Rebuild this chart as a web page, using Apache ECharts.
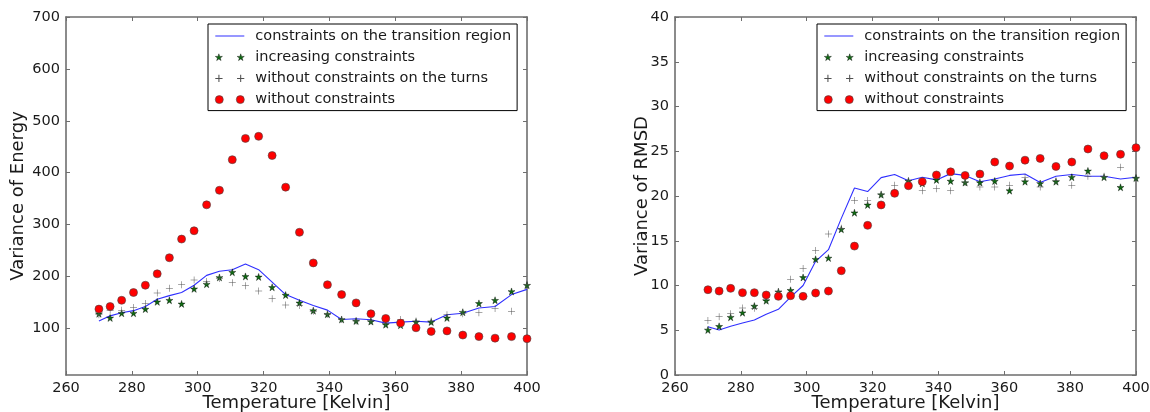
<!DOCTYPE html>
<html>
<head>
<meta charset="utf-8">
<title>Variance of Energy and RMSD vs Temperature</title>
<script src="https://cdn.jsdelivr.net/npm/echarts@6/dist/echarts.min.js"></script>
<style>
  html, body { margin: 0; padding: 0; background: #fff; }
  #chart { width: 1150px; height: 412px; }
</style>
</head>
<body>
<div id="chart"></div>
<script>
// Replica temperatures (Kelvin)
const temperatures = [270.0, 273.4, 276.9, 280.5, 284.1, 287.7, 291.4, 295.1, 298.9, 302.7,
  306.6, 310.5, 314.5, 318.5, 322.6, 326.7, 330.9, 335.1, 339.4, 343.7, 348.1, 352.6,
  357.1, 361.6, 366.3, 370.9, 375.7, 380.5, 385.4, 390.3, 395.3, 400.0];

const seriesNames = ['constraints on the transition region', 'increasing constraints',
  'without constraints on the turns', 'without constraints'];

// Variance of energy
const energyTransition = [114, 124, 130, 134, 142, 156, 163, 169, 183, 202, 210, 213, 224, 213,
  189, 165, 154, 144, 135, 117, 118.5, 116.5, 110, 112, 113.5, 112, 126, 129, 139, 142, 165, 175];
const energyIncreasing = [128, 120, 129, 129, 137, 151, 154, 147, 176, 185, 198, 208, 200, 199,
  179, 164, 149, 134, 127, 117, 114, 113, 107, 106, 112, 112, 120, 131, 148, 154, 171, 183];
const energyNoTurns = [126, 135, 135, 140, 148, 168, 177, 184, 193, 190, 196, 188, 182, 172,
  157, 145, 144, 133, 127, 117, 114, 114, 109, 117, 114, 114, 126, 128, 130, 138, 133, 185];
const energyNone = [137, 142, 154, 169, 183, 205, 236, 272, 288, 338, 366, 425, 466, 470,
  433, 372, 285, 226, 184, 165, 149, 128, 119, 110, 101, 94, 95, 87, 84, 81, 84, 80];

// Variance of RMSD
const rmsdTransition = [5.4, 5.03, 5.45, 5.8, 6.15, 6.8, 7.34, 8.7, 10.0, 12.7, 14.0, 17.5,
  20.9, 20.5, 22.05, 22.4, 21.7, 22.1, 21.8, 22.5, 22.3, 21.6, 21.9, 22.3, 22.45, 21.5, 22.2,
  22.4, 22.2, 22.2, 21.9, 22.1];
const rmsdIncreasing = [5.03, 5.44, 6.45, 6.96, 7.7, 8.3, 9.3, 9.46, 10.9, 12.93, 13.07, 16.28,
  18.13, 19.0, 20.15, 20.4, 21.67, 21.4, 21.8, 21.67, 21.5, 21.5, 21.67, 20.6, 21.6, 21.4, 21.6,
  22.1, 22.8, 22.1, 20.97, 22.0];
const rmsdNoTurns = [6.1, 6.5, 6.85, 7.5, 7.45, 8.4, 9.3, 10.7, 11.9, 13.9, 15.75, 16.4, 19.5,
  19.5, 20.2, 21.2, 21.7, 20.6, 20.8, 20.6, 21.5, 21.0, 21.0, 21.2, 22.05, 21.0, 21.7, 21.2,
  22.2, 22.2, 23.2, 22.0];
const rmsdNone = [9.53, 9.38, 9.68, 9.2, 9.2, 8.94, 8.79, 8.86, 8.79, 9.16, 9.38, 11.65, 14.4,
  16.72, 19.0, 20.3, 21.15, 21.6, 22.35, 22.7, 22.3, 22.45, 23.8, 23.35, 24.0, 24.2, 23.3,
  23.8, 25.25, 24.5, 24.66, 25.4];

// Axis ticks
const tempTicks = [260, 280, 300, 320, 340, 360, 380, 400];
const energyTicks = [100, 200, 300, 400, 500, 600, 700];
const rmsdTicks = [0, 5, 10, 15, 20, 25, 30, 35, 40];

const FONT = 'DejaVu Sans';
const TEXT = '#1a1a1a';
const SPINE = '#6e6e6e';

// marker shapes
function starPoints(cx, cy, r) {
  const pts = [];
  for (let i = 0; i < 10; i++) {
    const rr = i % 2 === 0 ? r : r * 0.382;
    const a = -Math.PI / 2 + i * Math.PI / 5;
    pts.push((cx + rr * Math.cos(a)).toFixed(3) + ',' + (cy + rr * Math.sin(a)).toFixed(3));
  }
  return 'M' + pts.join('L') + 'Z';
}
function crossPath(cx, cy, h, t) {
  return 'M' + (cx - t / 2) + ',' + (cy - h) + 'h' + t + 'v' + (h - t / 2) + 'h' + (h - t / 2) +
    'v' + t + 'h' + (t / 2 - h) + 'v' + (h - t / 2) + 'h' + (-t) + 'v' + (t / 2 - h) +
    'h' + (t / 2 - h) + 'v' + (-t) + 'h' + (h - t / 2) + 'z';
}
function circlePath(cx, cy, r) {
  return 'M' + (cx - r) + ',' + cy + 'a' + r + ',' + r + ' 0 1,0 ' + (2 * r) + ',0a' + r + ',' + r +
    ' 0 1,0 ' + (-2 * r) + ',0z';
}
const starSymbol = 'path://' + starPoints(0, 0, 100);
const crossSymbol = 'path://' + crossPath(0, 0, 7, 1);
const legendIcons = {
  line: 'path://M0,0h29v1h-29z',
  star: 'path://' + starPoints(4, 4, 3.6) + starPoints(25, 4, 3.6),
  cross: 'path://' + crossPath(4, 4, 3.5, 1) + crossPath(25, 4, 3.5, 1),
  circle: 'path://' + circlePath(4, 4, 4) + circlePath(25, 4, 4)
};

const styles = {
  line: { color: '#2f2fff', width: 1.1 },
  star: { color: '#0f6a12', borderColor: '#000', borderWidth: 0.4, opacity: 1 },
  cross: { color: '#505050', borderWidth: 0, opacity: 1 },
  circle: { color: '#ff0000', borderColor: '#444', borderWidth: 0.6, opacity: 1 }
};

const pairs = (ys) => temperatures.map((t, i) => [t, ys[i]]);

const panels = [
  { left: 66, yName: 'Variance of Energy', yMin: 10, yMax: 700, yTicks: energyTicks, nameGap: 39,
    legendLeft: 208, data: [energyTransition, energyIncreasing, energyNoTurns, energyNone] },
  { left: 675, yName: 'Variance of RMSD', yMin: 0, yMax: 40, yTicks: rmsdTicks, nameGap: 24,
    legendLeft: 817, data: [rmsdTransition, rmsdIncreasing, rmsdNoTurns, rmsdNone] }
];

const grid = [], xAxis = [], yAxis = [], series = [], legend = [];
const tickStyle = { inside: true, length: 4, lineStyle: { color: SPINE, width: 1 } };
const lineStyleAxis = { color: SPINE, width: 1.6 };

panels.forEach((p, gi) => {
  grid.push({ left: p.left, top: 17, width: 461, height: 358, outerBoundsMode: 'none', containLabel: false });
  const xi = xAxis.length, yi = yAxis.length;
  // bottom and mirrored top temperature axes
  ['bottom', 'top'].forEach((pos) => {
    xAxis.push({
      type: 'value', gridIndex: gi, position: pos, min: 260, max: 400, interval: 20,
      name: pos === 'bottom' ? 'Temperature [Kelvin]' : '',
      nameLocation: 'middle', nameGap: 19, nameMoveOverlap: false,
      nameTextStyle: { fontFamily: FONT, fontSize: 18, color: TEXT },
      axisLine: { show: true, onZero: false, lineStyle: lineStyleAxis },
      axisTick: Object.assign({ customValues: tempTicks }, tickStyle),
      axisLabel: { show: pos === 'bottom', customValues: tempTicks, margin: 6,
        fontFamily: FONT, fontSize: 14.5, color: TEXT },
      splitLine: { show: false }
    });
  });
  // left and mirrored right value axes
  ['left', 'right'].forEach((pos) => {
    yAxis.push({
      type: 'value', gridIndex: gi, position: pos, min: p.yMin, max: p.yMax,
      name: pos === 'left' ? p.yName : '',
      nameLocation: 'middle', nameGap: p.nameGap, nameMoveOverlap: false,
      nameTextStyle: { fontFamily: FONT, fontSize: 18, color: TEXT },
      axisLine: { show: true, onZero: false, lineStyle: lineStyleAxis },
      axisTick: Object.assign({ customValues: p.yTicks }, tickStyle),
      axisLabel: { show: pos === 'left', customValues: p.yTicks, margin: 6,
        fontFamily: FONT, fontSize: 14.5, color: TEXT },
      splitLine: { show: false }
    });
  });
  const base = { xAxisIndex: xi, yAxisIndex: yi };
  series.push(Object.assign({
    name: seriesNames[0], type: 'line', data: pairs(p.data[0]), symbol: 'none',
    lineStyle: styles.line, itemStyle: { color: styles.line.color }, z: 2, animation: false
  }, base));
  series.push(Object.assign({
    name: seriesNames[1], type: 'scatter', data: pairs(p.data[1]), symbol: starSymbol,
    symbolSize: 7, itemStyle: styles.star, z: 3, animation: false
  }, base));
  series.push(Object.assign({
    name: seriesNames[2], type: 'scatter', data: pairs(p.data[2]), symbol: crossSymbol,
    symbolSize: 7, itemStyle: styles.cross, z: 4, animation: false
  }, base));
  series.push(Object.assign({
    name: seriesNames[3], type: 'scatter', data: pairs(p.data[3]), symbol: 'circle',
    symbolSize: 8, itemStyle: styles.circle, z: 5, animation: false
  }, base));

  legend.push({
    orient: 'vertical', left: p.legendLeft, top: 24, padding: [4, 6, 3, 7],
    itemGap: 5.2, itemWidth: 29, itemHeight: 8, selectedMode: false,
    borderColor: '#000', borderWidth: 1, borderRadius: 0, backgroundColor: '#fff',
    textStyle: { fontFamily: FONT, fontSize: 14.5, color: TEXT, lineHeight: 16, padding: [0, 0, 0, 6] },
    data: [
      { name: seriesNames[0], icon: legendIcons.line,
        itemStyle: { color: styles.line.color, borderWidth: 0 } },
      { name: seriesNames[1], icon: legendIcons.star, itemStyle: styles.star },
      { name: seriesNames[2], icon: legendIcons.cross, itemStyle: styles.cross },
      { name: seriesNames[3], icon: legendIcons.circle, itemStyle: styles.circle }
    ]
  });
});

const chart = echarts.init(document.getElementById('chart'), null, { renderer: 'canvas' });
chart.setOption({
  backgroundColor: '#fff',
  animation: false,
  textStyle: { fontFamily: FONT },
  grid, xAxis, yAxis, series, legend
});
</script>
</body>
</html>
